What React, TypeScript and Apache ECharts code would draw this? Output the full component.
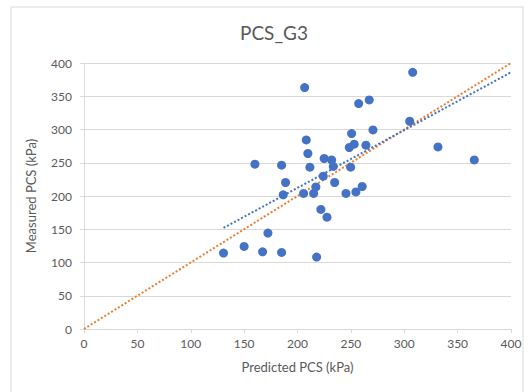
import React, { useEffect, useRef } from "react";
import * as echarts from "echarts";

const chartTitle = "PCS_G3";
const xAxisTitle = "Predicted PCS (kPa)";
const yAxisTitle = "Measured PCS (kPa)";

const predicted = [
  206.7, 208.2, 209.7, 160.1, 185.1, 211.6, 188.8, 186.6, 205.7, 215.1,
  217.2, 257.3, 267.2, 270.7, 250.7, 253.1, 248.5, 264.1, 225.0, 232.0,
  233.5, 249.8, 224.1, 234.8, 245.4, 254.7, 260.6, 307.9, 305.1, 331.6,
  365.6, 130.7, 150.0, 172.3, 167.3, 185.1, 217.9, 221.9, 227.6,
];
const measured = [
  363.0, 284.3, 263.9, 247.8, 246.3, 243.3, 220.3, 201.7, 203.8, 203.8,
  213.7, 339.0, 344.4, 299.3, 293.9, 277.9, 272.9, 276.4, 256.4, 254.3,
  244.4, 243.3, 229.8, 220.3, 203.8, 206.2, 214.3, 386.0, 312.4, 273.8,
  254.3, 114.1, 124.2, 144.2, 116.1, 115.2, 108.1, 179.8, 168.2,
];
// linear trendline endpoints
const trendX = [130.7, 400];
const trendY = [152, 386];
// 1:1 line
const identityX = [0, 400];
const identityY = [0, 400];

const FONT = "Lato, 'Open Sans', sans-serif";

export default function App() {
  const ref = useRef<HTMLDivElement>(null);
  useEffect(() => {
    document.body.style.margin = "0";
    if (!ref.current) return;
    const chart = echarts.init(ref.current, null, { renderer: "svg" });
    const points = predicted.map((x, i) => [x, measured[i]]);
    chart.setOption({
      animation: false,
      backgroundColor: "#ffffff",
      textStyle: { fontFamily: FONT },
      graphic: [
        {
          type: "rect",
          shape: { x: 11, y: 7, width: 512, height: 400 },
          style: { fill: "none", stroke: "#d9d9d9", lineWidth: 1 },
          silent: true,
        },
        {
          type: "text",
          x: 274,
          y: 32,
          style: {
            text: chartTitle,
            fill: "#595959",
            font: `19px ${FONT}`,
            textAlign: "center",
            textVerticalAlign: "middle",
          },
        },
      ],
      grid: { left: 84, top: 63, width: 427, height: 266 },
      xAxis: {
        type: "value",
        min: 0,
        max: 400,
        interval: 50,
        name: xAxisTitle,
        nameLocation: "middle",
        nameGap: 31,
        nameTextStyle: { color: "#595959", fontSize: 13, fontFamily: FONT },
        axisLine: { show: true, lineStyle: { color: "#d9d9d9" } },
        axisTick: { show: true, length: 4, lineStyle: { color: "#d9d9d9" } },
        axisLabel: { color: "#595959", fontSize: 12, margin: 8, fontFamily: FONT },
        splitLine: { show: false },
      },
      yAxis: {
        type: "value",
        min: 0,
        max: 400,
        interval: 50,
        name: yAxisTitle,
        nameLocation: "middle",
        nameGap: 47,
        nameRotate: 90,
        nameTextStyle: { color: "#595959", fontSize: 13, fontFamily: FONT },
        axisLine: { show: true, lineStyle: { color: "#d9d9d9" } },
        axisTick: { show: true, length: 4, lineStyle: { color: "#d9d9d9" } },
        axisLabel: { color: "#595959", fontSize: 12, margin: 12, fontFamily: FONT },
        splitLine: { show: true, lineStyle: { color: "#d9d9d9" } },
      },
      series: [
        {
          type: "line",
          data: identityX.map((x, i) => [x, identityY[i]]),
          showSymbol: false,
          symbol: "none",
          lineStyle: { color: "#ED7D31", width: 2, type: [2, 2] },
          z: 2,
        },
        {
          type: "line",
          data: trendX.map((x, i) => [x, trendY[i]]),
          showSymbol: false,
          symbol: "none",
          lineStyle: { color: "#4472C4", width: 2, type: [2, 2] },
          z: 2,
        },
        {
          type: "scatter",
          data: points,
          symbol: "circle",
          symbolSize: 9,
          itemStyle: { color: "#4472C4", opacity: 1 },
          z: 3,
        },
      ],
    });
    return () => chart.dispose();
  }, []);
  return (
    <div
      ref={ref}
      style={{ position: "absolute", left: 0, top: 0, width: 532, height: 392 }}
    />
  );
}
